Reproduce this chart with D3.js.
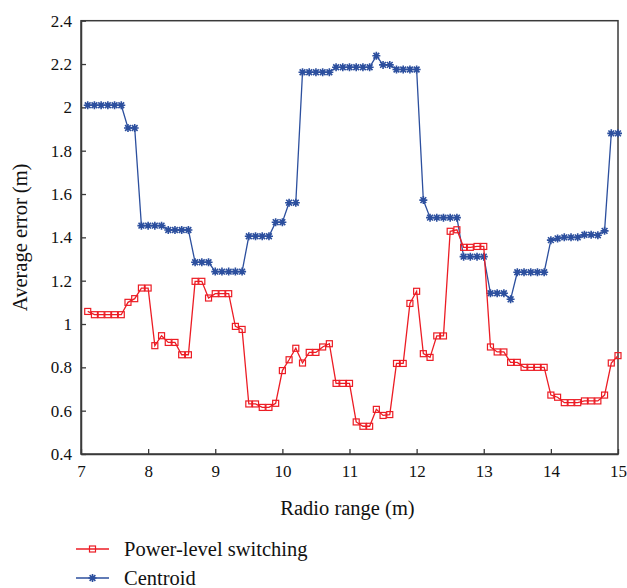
<!DOCTYPE html>
<html>
<head>
<meta charset="utf-8">
<script src="https://cdn.jsdelivr.net/npm/d3@7"></script>
<style>
  body { margin: 0; background: #fff; }
  text { font-family: "Liberation Serif", "Times New Roman", serif; fill: #111; }
</style>
</head>
<body>
<div id="chart"></div>
<script>
// radio range (m)
const radioRange = [
  7.1, 7.2, 7.3, 7.4, 7.5, 7.6, 7.7, 7.8, 7.9, 8.0,
  8.1, 8.2, 8.3, 8.4, 8.5, 8.6, 8.7, 8.8, 8.9, 9.0,
  9.1, 9.2, 9.3, 9.4, 9.5, 9.6, 9.7, 9.8, 9.9, 10.0,
  10.1, 10.2, 10.3, 10.4, 10.5, 10.6, 10.7, 10.8, 10.9, 11.0,
  11.1, 11.2, 11.3, 11.4, 11.5, 11.6, 11.7, 11.8, 11.9, 12.0,
  12.1, 12.2, 12.3, 12.4, 12.5, 12.6, 12.7, 12.8, 12.9, 13.0,
  13.1, 13.2, 13.3, 13.4, 13.5, 13.6, 13.7, 13.8, 13.9, 14.0,
  14.1, 14.2, 14.3, 14.4, 14.5, 14.6, 14.7, 14.8, 14.9, 15.0
];

const powerLevel = [
  1.058, 1.043, 1.043, 1.043, 1.043, 1.043, 1.10, 1.117, 1.166, 1.166,
  0.90, 0.946, 0.915, 0.915, 0.858, 0.858, 1.197, 1.197, 1.12, 1.14,
  1.14, 1.14, 0.989, 0.975, 0.631, 0.631, 0.615, 0.615, 0.634, 0.785,
  0.835, 0.888, 0.82, 0.869, 0.869, 0.894, 0.909, 0.726, 0.726, 0.726,
  0.548, 0.528, 0.528, 0.606, 0.578, 0.582, 0.818, 0.818, 1.095, 1.151,
  0.863, 0.846, 0.945, 0.945, 1.428, 1.435, 1.354, 1.354, 1.358, 1.358,
  0.894, 0.871, 0.871, 0.823, 0.823, 0.80, 0.80, 0.80, 0.80, 0.672,
  0.662, 0.637, 0.637, 0.637, 0.645, 0.645, 0.645, 0.672, 0.82, 0.854
];

const centroid = [
  2.01, 2.01, 2.01, 2.01, 2.01, 2.01, 1.905, 1.905, 1.454, 1.454,
  1.454, 1.454, 1.434, 1.434, 1.434, 1.434, 1.285, 1.285, 1.285, 1.242,
  1.242, 1.242, 1.242, 1.242, 1.405, 1.405, 1.405, 1.405, 1.47, 1.47,
  1.56, 1.56, 2.162, 2.162, 2.162, 2.162, 2.162, 2.185, 2.185, 2.185,
  2.185, 2.185, 2.185, 2.238, 2.196, 2.196, 2.175, 2.175, 2.175, 2.175,
  1.572, 1.491, 1.491, 1.491, 1.491, 1.491, 1.311, 1.311, 1.311, 1.311,
  1.142, 1.142, 1.142, 1.114, 1.239, 1.239, 1.239, 1.239, 1.239, 1.387,
  1.395, 1.40, 1.40, 1.40, 1.412, 1.412, 1.41, 1.43, 1.88, 1.88
];

const xTicks = [7, 8, 9, 10, 11, 12, 13, 14, 15];
const yTicks = [0.4, 0.6, 0.8, 1, 1.2, 1.4, 1.6, 1.8, 2, 2.2, 2.4];
const seriesNames = ["Power-level switching", "Centroid"];

const width = 627,
  height = 588;
const margin = { top: 20.7, right: 9, bottom: 134, left: 81 };
const red = "#ec1c24",
  blue = "#2c4f9e";

const svg = d3.select("#chart")
  .append("svg")
  .attr("width", width)
  .attr("height", height);

const x = d3.scaleLinear()
  .domain([7, 15])
  .range([margin.left, width - margin.right]);

const y = d3.scaleLinear()
  .domain([0.4, 2.4])
  .range([height - margin.bottom, margin.top]);

// frame
svg.append("rect")
  .attr("x", x(7))
  .attr("y", y(2.4))
  .attr("width", x(15) - x(7))
  .attr("height", y(0.4) - y(2.4))
  .attr("fill", "none")
  .attr("stroke", "#3a3a3a")
  .attr("stroke-width", 1.5);

const fmt = d => String(+d.toFixed(1));

const xAxis = svg.append("g")
  .attr("transform", `translate(0,${y(0.4)})`)
  .call(d3.axisBottom(x).tickValues(xTicks).tickFormat(fmt).tickSizeInner(-5).tickSizeOuter(0).tickPadding(11));

const yAxis = svg.append("g")
  .attr("transform", `translate(${x(7)},0)`)
  .call(d3.axisLeft(y).tickValues(yTicks).tickFormat(fmt).tickSizeInner(-5).tickSizeOuter(0).tickPadding(9));

[xAxis, yAxis].forEach(g => {
  g.select(".domain").attr("stroke", "#3a3a3a").attr("stroke-width", 1.5);
  g.selectAll(".tick line").attr("stroke", "#3a3a3a").attr("stroke-width", 1.3);
  g.selectAll(".tick text")
    .style("font-family", "'Liberation Serif', serif")
    .attr("font-size", 17)
    .attr("fill", "#111");
});

// axis titles
svg.append("text")
  .attr("x", (x(7) + x(15)) / 2 - 2)
  .attr("y", 515)
  .attr("text-anchor", "middle")
  .attr("font-size", 20.5)
  .text("Radio range (m)");

svg.append("text")
  .attr("transform", `translate(27,${(y(0.4) + y(2.4)) / 2}) rotate(-90)`)
  .attr("text-anchor", "middle")
  .attr("font-size", 20.5)
  .text("Average error (m)");

const line = d3.line()
  .x((d, i) => x(radioRange[i]))
  .y(d => y(d));

// markers
function drawSquare(g, cx, cy) {
  g.append("rect")
    .attr("x", cx - 3)
    .attr("y", cy - 3)
    .attr("width", 6)
    .attr("height", 6)
    .attr("fill", "none")
    .attr("stroke", red)
    .attr("stroke-width", 1.2);
}

function drawStar(g, cx, cy) {
  const r = 4;
  const p = d3.path();
  p.moveTo(cx - r, cy); p.lineTo(cx + r, cy);
  p.moveTo(cx, cy - r); p.lineTo(cx, cy + r);
  const k = r * 0.72;
  p.moveTo(cx - k, cy - k); p.lineTo(cx + k, cy + k);
  p.moveTo(cx - k, cy + k); p.lineTo(cx + k, cy - k);
  g.append("path")
    .attr("d", p.toString())
    .attr("stroke", blue)
    .attr("stroke-width", 1.6)
    .attr("fill", "none");
}

// centroid series
svg.append("path")
  .datum(centroid)
  .attr("d", line)
  .attr("fill", "none")
  .attr("stroke", blue)
  .attr("stroke-width", 1.3);

const starG = svg.append("g");
centroid.forEach((d, i) => drawStar(starG, x(radioRange[i]), y(d)));

// power-level switching series
svg.append("path")
  .datum(powerLevel)
  .attr("d", line)
  .attr("fill", "none")
  .attr("stroke", red)
  .attr("stroke-width", 1.3);

const sqG = svg.append("g");
powerLevel.forEach((d, i) => drawSquare(sqG, x(radioRange[i]), y(d)));

// legend
const legend = svg.append("g");
seriesNames.forEach((name, i) => {
  const ly = 549 + i * 29;
  const col = i === 0 ? red : blue;
  legend.append("line")
    .attr("x1", 76).attr("x2", 109)
    .attr("y1", ly).attr("y2", ly)
    .attr("stroke", col)
    .attr("stroke-width", 1.3);
  if (i === 0) drawSquare(legend, 92.5, ly);
  else drawStar(legend, 92.5, ly);
  legend.append("text")
    .attr("x", 124)
    .attr("y", ly + 6.5)
    .attr("font-size", 20.5)
    .text(name);
});
</script>
</body>
</html>
